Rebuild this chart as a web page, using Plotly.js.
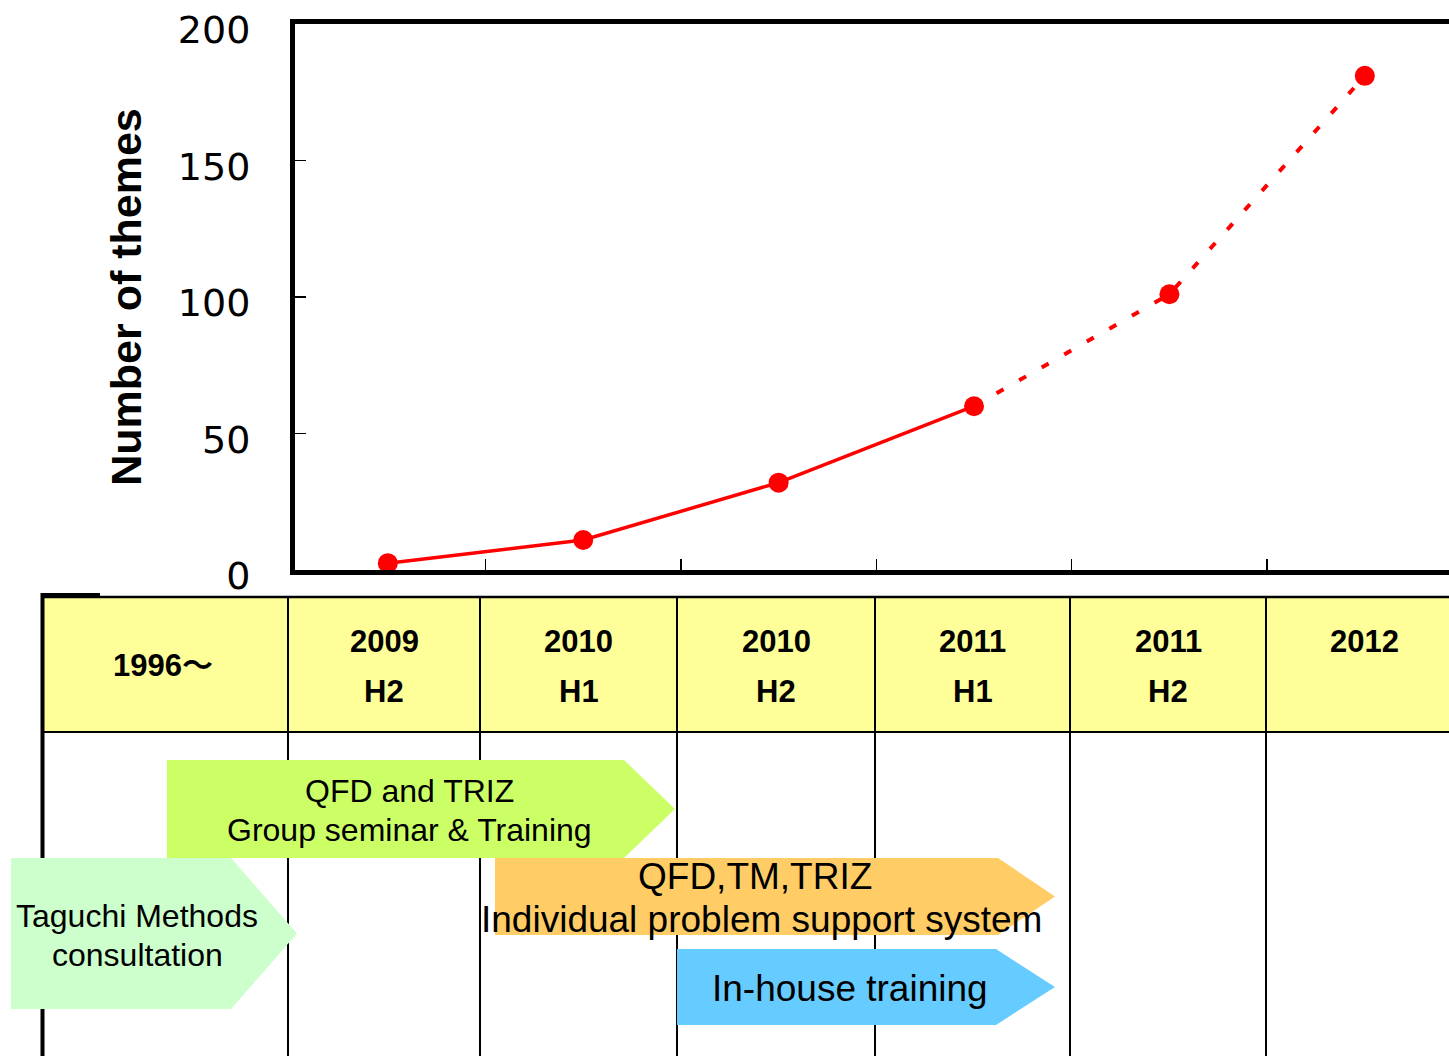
<!DOCTYPE html>
<html>
<head>
<meta charset="utf-8">
<script src="https://cdn.plot.ly/plotly-3.0.1.min.js"></script>
<style>
  html, body { margin: 0; padding: 0; background: #ffffff; overflow: hidden; width: 1449px; height: 1056px; }
  #chart { width: 1480px; height: 1056px; }
</style>
</head>
<body>
<div id="chart"></div>
<script>
// ---- data ----
const periods = ['2009 H2', '2010 H1', '2010 H2', '2011 H1', '2011 H2', '2012'];
const themes = [2.5, 11, 32, 60, 101, 181];
const actualPointCount = 4; // solid line for actual, dotted for planned
const headerYears = ['1996\uFF5E', '2009', '2010', '2010', '2011', '2011', '2012'];
const headerHalves = ['', 'H2', 'H1', 'H2', 'H1', 'H2', ''];
const yTickValues = [0, 50, 100, 150, 200];
const programLines = [
  ['QFD and TRIZ', 'Group seminar & Training'],
  ['Taguchi Methods', 'consultation'],
  ['QFD,TM,TRIZ', 'Individual problem support system'],
  ['In-house training']
];

// ---- layout geometry (pixels) ----
const W = 1480, H = 1056;
const M = { l: 295, r: 20, t: 24, b: 486 };
const PW = W - M.l - M.r, PH = H - M.t - M.b;
const px = x => (x - M.l) / PW;
const py = y => (H - M.b - y) / PH;

const xIdx = periods.map((_, i) => i);

const traces = [
  {
    x: xIdx.slice(0, actualPointCount),
    y: themes.slice(0, actualPointCount),
    text: periods.slice(0, actualPointCount),
    mode: 'lines+markers',
    line: { color: '#ff0000', width: 3.5 },
    marker: { color: '#ff0000', size: 20 },
    hoverinfo: 'text+y',
    showlegend: false
  },
  {
    x: xIdx.slice(actualPointCount - 1),
    y: themes.slice(actualPointCount - 1),
    text: periods.slice(actualPointCount - 1),
    mode: 'lines',
    line: { color: '#ff0000', width: 4, dash: '8px,18px' },
    hoverinfo: 'skip',
    showlegend: false
  },
  {
    x: xIdx.slice(actualPointCount),
    y: themes.slice(actualPointCount),
    text: periods.slice(actualPointCount),
    mode: 'markers',
    marker: { color: '#ff0000', size: 20 },
    hoverinfo: 'text+y',
    showlegend: false
  }
];

// ---- table shapes ----
const colEdges = [42, 288, 480, 677, 875, 1070, 1266, 1470];
const tableTop = 597, headerBottom = 732, tableBottom = 1060;
const shapes = [];
const line = (x0, y0, x1, y1, w) => shapes.push({
  type: 'line', xref: 'paper', yref: 'paper',
  x0: px(x0), y0: py(y0), x1: px(x1), y1: py(y1),
  line: { color: '#000000', width: w }, layer: 'above'
});
shapes.push({
  type: 'rect', xref: 'paper', yref: 'paper',
  x0: px(colEdges[0]), x1: px(colEdges[colEdges.length - 1]),
  y0: py(tableTop), y1: py(headerBottom),
  fillcolor: '#FFFF99', line: { width: 0 }, layer: 'above'
});
line(colEdges[0], tableTop, colEdges[colEdges.length - 1], tableTop, 2.5);
line(colEdges[0], headerBottom, colEdges[colEdges.length - 1], headerBottom, 2);
for (let i = 1; i < colEdges.length - 1; i++) line(colEdges[i], tableTop, colEdges[i], tableBottom, 2);
line(42.5, 593, 42.5, tableBottom, 4);
line(41, 595, 100, 595, 4);

// arrows (pentagon shapes)
function arrow(x0, x1, xtip, y0, y1, color) {
  const ym = (y0 + y1) / 2;
  const pts = [[x0, y0], [x1, y0], [xtip, ym], [x1, y1], [x0, y1]];
  const path = 'M' + pts.map(p => px(p[0]) + ',' + py(p[1])).join(' L') + ' Z';
  shapes.push({ type: 'path', xref: 'paper', yref: 'paper', path: path,
    fillcolor: color, line: { width: 0 }, layer: 'above' });
}
arrow(167, 624, 675, 760, 858, '#CCFF66');
arrow(11, 231, 297, 858, 1009, '#CCFFCC');
arrow(495, 998, 1055, 858, 935, '#FFCC66');
arrow(677, 996, 1055, 949, 1025, '#66CCFF');

// ---- annotations ----
const annotations = [];
const TXT = 'Liberation Sans, Arial, sans-serif';
function label(text, x, y, size, bold) {
  annotations.push({
    xref: 'paper', yref: 'paper', x: px(x), y: py(y),
    xanchor: 'center', yanchor: 'middle', showarrow: false,
    text: bold ? '<b>' + text + '</b>' : text,
    font: { family: TXT + ', Noto Sans CJK JP', size: size, color: '#000000' }
  });
}
for (let i = 0; i < headerYears.length; i++) {
  const cx = (colEdges[i] + colEdges[i + 1]) / 2 - (i === colEdges.length - 2 ? 4 : 0);
  if (headerHalves[i]) {
    label(headerYears[i], cx, 641, 31, true);
    label(headerHalves[i], cx, 691, 31, true);
  } else if (i === 0) {
    label(headerYears[i], cx - 2, 665, 31, true);
  } else {
    label(headerYears[i], cx, 641, 31, true);
  }
}
label(programLines[0][0], 409, 791, 32);
label(programLines[0][1], 409, 830, 32);
label(programLines[1][0], 137, 916, 32);
label(programLines[1][1], 137, 955, 32);
label(programLines[2][0], 755, 876, 37);
label(programLines[2][1], 761, 919, 37);
label(programLines[3][0], 850, 988, 37);

const layout = {
  width: W, height: H,
  margin: M,
  paper_bgcolor: '#ffffff', plot_bgcolor: '#ffffff',
  showlegend: false,
  xaxis: {
    range: [-0.475, -0.475 + PW / 195.4],
    tickmode: 'array', tickvals: [0.5, 1.5, 2.5, 3.5, 4.5],
    showticklabels: false, ticks: 'inside', ticklen: 11, tickwidth: 1.5, tickcolor: '#000',
    showgrid: false, zeroline: false,
    showline: true, linecolor: '#000', linewidth: 5, mirror: true,
    automargin: false, fixedrange: true
  },
  yaxis: {
    range: [0, 200],
    tickmode: 'array', tickvals: yTickValues,
    ticks: 'inside', ticklen: 11, tickwidth: 1.5, tickcolor: '#000',
    ticklabelstandoff: 32,
    ticklabelshift: 6,
    ticklabeloverflow: 'allow',
    tickfont: { family: 'DejaVu Sans, Noto Sans CJK JP, sans-serif', size: 38, color: '#000' },
    showgrid: false, zeroline: false,
    showline: true, linecolor: '#000', linewidth: 5, mirror: true,
    title: { text: '<b>Number of themes</b>', standoff: 24,
      font: { family: TXT, size: 43, color: '#000' } },
    automargin: false, fixedrange: true
  },
  shapes: shapes,
  annotations: annotations
};

Plotly.newPlot('chart', traces, layout, { displayModeBar: false, staticPlot: true });
</script>
</body>
</html>
